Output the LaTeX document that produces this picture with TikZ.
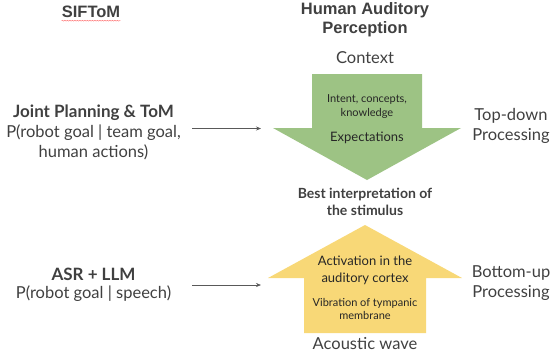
\documentclass[tikz,border=0pt]{standalone}
\usepackage{fontspec}
\setmainfont{Lato}
\newfontfamily\headfont{Liberation Sans}
\usetikzlibrary{arrows.meta,decorations.pathmorphing}
\definecolor{topgreen}{RGB}{157,195,132}
\definecolor{botyellow}{RGB}{248,216,119}
\definecolor{textgray}{RGB}{64,64,64}
\begin{document}
\begin{tikzpicture}[x=1pt, y=-1pt,
        head/.style={font=\headfont\bfseries\fontsize{16.5}{19}\selectfont, text=textgray, align=center, inner sep=0pt},
        lbl/.style={font=\fontsize{16.5}{20.5}\selectfont, text=textgray, align=center, inner sep=0pt},
        lblb/.style={font=\bfseries\fontsize{17}{20.5}\selectfont, text=textgray, align=center, inner sep=0pt},
        inner/.style={font=\fontsize{11}{13.5}\selectfont, text=black!85, align=center, inner sep=0pt},
        innerbig/.style={font=\fontsize{13}{16.5}\selectfont, text=black!85, align=center, inner sep=0pt},
        arrow/.style={-{Stealth[length=5pt, width=4pt]}, gray!70!black, line width=0.6pt}
    ]
        \useasboundingbox (0,0) rectangle (551,360);

        % Column titles
        \node[head] (sif) at (91,12) {SIFToM};
        \draw[red!60, line width=0.4pt, decorate, decoration={snake, amplitude=0.5pt, segment length=2.5pt}]
            ([yshift=-3pt]sif.base west) -- ([yshift=-3pt]sif.base east);
        \node[head] (hap) at (365,19.5) {Human Auditory\\Perception};

        % Top-down arrow
        \fill[topgreen] (312,74) -- (422,74) -- (422,128) -- (461,128) -- (367,180)
            -- (273,128) -- (312,128) -- cycle;
        \node[lbl] (ctx) at (365,58) {Context};
        \node[inner] (intent) at (367,106.5) {Intent, concepts,\\knowledge};
        \node[innerbig] (expect) at (367,138) {Expectations};
        \node[lbl] (topdown) at (511,126) {Top-down\\Processing};

        % Result
        \node[font=\bfseries\fontsize{14}{17}\selectfont, text=textgray, align=center, inner sep=0pt]
            (best) at (365,202) {Best interpretation of\\the stimulus};

        % Bottom-up arrow
        \fill[botyellow] (365,225) -- (462,278) -- (426,278) -- (426,333) -- (304,333)
            -- (304,278) -- (268,278) -- cycle;
        \node[innerbig] (activ) at (365,270.5) {Activation in the\\auditory cortex};
        \node[inner] (vib) at (365,309) {Vibration of tympanic\\membrane};
        \node[lbl] (wave) at (365,344) {Acoustic wave};
        \node[lbl] (bottomup) at (511,283) {Bottom-up\\Processing};

        % SIFToM side
        \node[lblb] (joint) at (93.5,113) {Joint Planning \& ToM};
        \node[lbl, anchor=north] (pjoint) at (93.5,124) {P(robot goal | team goal,\\human actions)};
        \coordinate (greenin) at (261,128.5);
        \draw[arrow] (192,128.5) -- (greenin);

        \node[lblb] (asr) at (93.5,274) {ASR + LLM};
        \node[lbl] (pasr) at (93.5,294) {P(robot goal | speech)};
        \coordinate (yellowin) at (261,285);
        \draw[arrow] (192,285) -- (yellowin);
    \end{tikzpicture}
\end{document}
